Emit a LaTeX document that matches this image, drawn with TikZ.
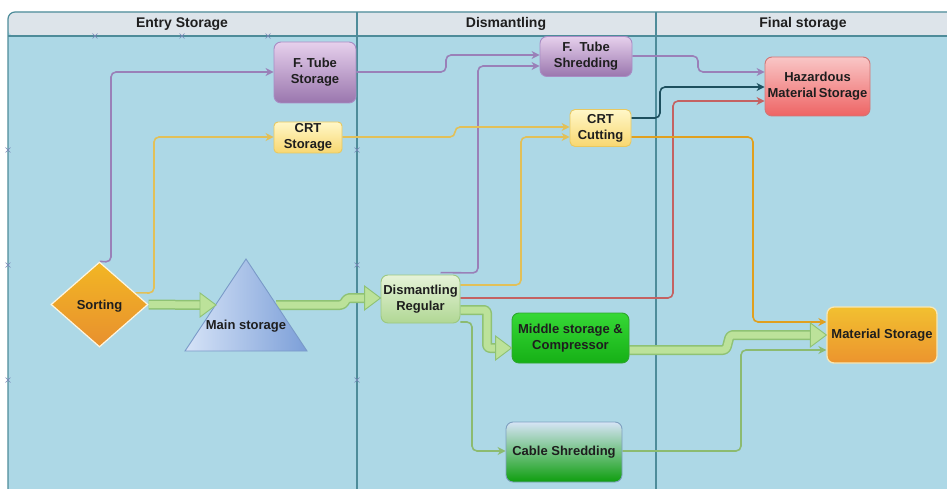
\documentclass[tikz,border=0pt]{standalone}
\usepackage{fontspec}
\setmainfont{Liberation Sans}
\usetikzlibrary{shapes.geometric,arrows.meta,calc}
\pgfdeclarelayer{pool}
\pgfdeclarelayer{links}
\pgfsetlayers{pool,links,main}
\definecolor{poolbg}{HTML}{ADD8E6}
\definecolor{headbg}{HTML}{DDE4EA}
\definecolor{lanebd}{HTML}{4E8C9A}
\definecolor{xcol}{HTML}{7A86B8}
\definecolor{purpline}{HTML}{9A80B8}
\definecolor{yelline}{HTML}{E2C058}
\definecolor{redline}{HTML}{C46262}
\definecolor{tealline}{HTML}{1D4F5E}
\definecolor{orline}{HTML}{E0A020}
\definecolor{grline}{HTML}{8CBB70}
\definecolor{blockfill}{HTML}{BCE29A}
\definecolor{blockbd}{HTML}{8FC274}
\definecolor{txt}{HTML}{1E1E1E}
\definecolor{purpbd}{HTML}{A88CC4}
\definecolor{purptop}{HTML}{E6D0EC}
\definecolor{purpbot}{HTML}{9A76AE}
\definecolor{yelbd}{HTML}{E8C860}
\definecolor{yeltop}{HTML}{FFF7C8}
\definecolor{yelbot}{HTML}{F8D770}
\definecolor{sortbd}{HTML}{FFF6E0}
\definecolor{sorttop}{HTML}{F2B624}
\definecolor{sortbot}{HTML}{E8902E}
\definecolor{tribd}{HTML}{7A9AC8}
\definecolor{trileftc}{HTML}{D6E3F7}
\definecolor{trirightc}{HTML}{7C9FD8}
\definecolor{hazbd}{HTML}{D07676}
\definecolor{haztop}{HTML}{F9C6C6}
\definecolor{hazbot}{HTML}{EE6464}
\definecolor{dbd}{HTML}{9CC880}
\definecolor{dtop}{HTML}{E6F3D8}
\definecolor{dbot}{HTML}{B0D794}
\definecolor{mbd}{HTML}{2EA62E}
\definecolor{mtop}{HTML}{36D836}
\definecolor{mbot}{HTML}{16B016}
\definecolor{cbd}{HTML}{7FA0C0}
\definecolor{ctop}{HTML}{D6E4F6}
\definecolor{cbot}{HTML}{0E9E0E}
\definecolor{msbd}{HTML}{F6E7B6}
\definecolor{mstop}{HTML}{F2C030}
\definecolor{msbot}{HTML}{EC942E}
\newcommand\bhead[1]{\draw[blockbd, fill=blockfill, line width=0.9pt, line join=miter] (#1) -- ++(-16,-12) -- ++(0,24) -- cycle;}
\tikzset{
  conn/.style={line width=1.6pt, rounded corners=5pt, -{Stealth[length=8pt,width=8pt]}},
  shaftbd/.style={line width=10pt, draw=blockbd, rounded corners=3pt, line join=round},
  shaftin/.style={line width=7pt, draw=blockfill, rounded corners=3pt, line join=round},
  box/.style={rectangle, rounded corners=7pt, draw, line width=0.9pt, inner sep=0pt, align=center, text=txt},
  purpbox/.style={box, draw=purpbd, top color=purptop, bottom color=purpbot},
  yelbox/.style={box, draw=yelbd, top color=yeltop, bottom color=yelbot},
  xmk/.style={draw=xcol, line width=0.6pt},
  lane/.style={draw=lanebd, line width=1.2pt},
  headtxt/.style={font=\fontsize{14}{16}\selectfont\bfseries, text=txt}
}
\begin{document}
\begin{tikzpicture}[x=1pt, y=-1pt, font=\fontsize{13}{16}\selectfont\bfseries]
\useasboundingbox (0,0) rectangle (947,489);
\begin{pgfonlayer}{pool}
\fill[white] (0,0) rectangle (947,489);
\begin{scope}
\clip (0,0) rectangle (947,489);
\fill[poolbg, rounded corners=7pt] (8,12) rectangle (980,520);
\fill[headbg, rounded corners=7pt] (8,36) -- (8,12) -- (980,12) -- (980,36) -- cycle;
\draw[lane, rounded corners=7pt] (8,489) -- (8,12) -- (980,12);
\draw[lane] (8,36) -- (947,36);
\draw[lane] (357,12) -- (357,489);
\draw[lane] (656,12) -- (656,489);
\end{scope}
\foreach \x/\y in {95/36,182/36,268/36,8/150,8/265,8/380,357/150,357/265,357/380}
  \draw[xmk] (\x-2.5,\y-2.5) -- (\x+2.5,\y+2.5) (\x-2.5,\y+2.5) -- (\x+2.5,\y-2.5);
\end{pgfonlayer}
\node[headtxt] (h1) at (182,24) {Entry Storage};
\node[headtxt] (h2) at (506,24) {Dismantling};
\node[headtxt] (h3) at (803,24) {Final storage};

% nodes
\node[diamond, draw=sortbd, line width=1.2pt, top color=sorttop, bottom color=sortbot, minimum width=97pt, minimum height=85pt, inner sep=0pt, text height=9pt, text depth=0pt, text=txt] (sorting) at (99.5,304.5) {Sorting};
\path[draw=tribd, line width=0.9pt, left color=trileftc, right color=trirightc] (246,259) -- (307,351) -- (185,351) -- cycle;
\node[text=txt] (mainst) at (246,326) {Main storage};
\coordinate (trileft) at (216,305);
\coordinate (triright) at (276,305);
\node[purpbox, minimum width=82pt, minimum height=61pt] (ftstore) at (315,72.5) {F. Tube\\Storage};
\node[yelbox, minimum width=68pt, minimum height=31pt, rounded corners=4pt] (crtstore) at (308,137.5) {CRT\\Storage};
\node[purpbox, minimum width=92pt, minimum height=40pt] (ftshred) at (586,56.5) {F.~~Tube\\Shredding};
\node[yelbox, minimum width=61pt, minimum height=37pt, rounded corners=5pt] (crtcut) at (600.5,128) {CRT\\Cutting};
\node[box, draw=hazbd, top color=haztop, bottom color=hazbot, minimum width=105pt, minimum height=59pt] (hazard) at (817.5,86.5) {Hazardous\\Material\,Storage};
\node[box, draw=dbd, top color=dtop, bottom color=dbot, minimum width=79pt, minimum height=48pt] (dismreg) at (420.5,299) {Dismantling\\Regular};
\node[box, draw=mbd, top color=mtop, bottom color=mbot, minimum width=117pt, minimum height=50pt] (midstore) at (570.5,338) {Middle storage \&\\Compressor};
\node[box, draw=cbd, top color=ctop, bottom color=cbot, minimum width=116pt, minimum height=60pt] (cable) at (564,452) {Cable Shredding};
\node[box, draw=msbd, line width=1.3pt, top color=mstop, bottom color=msbot, minimum width=110pt, minimum height=56pt] (matstore) at (882,335) {Material Storage};

\begin{pgfonlayer}{links}
% thin connectors
\draw[conn, purpline] (sorting.north) -- (111,262) -- (111,72) -- (ftstore.west |- 0,72);
\draw[conn, yelline] ($(sorting.north)!0.73!(sorting.east)$) -- (154,293) -- (154,137) -- (crtstore.west |- 0,137);
\draw[conn, purpline] (ftstore.east |- 0,72) -- (446,72) -- (446,55) -- (ftshred.west |- 0,55);
\draw[conn, purpline] ($(dismreg.north)+(20,-2)$) -- (478,273) -- (478,66) -- (ftshred.west |- 0,66);
\draw[conn, yelline] (crtstore.east |- 0,137) -- (455,137) -- (455,127) -- (crtcut.west |- 0,127);
\draw[conn, yelline] (dismreg.east |- 0,285) -- (521,285) -- (521,137) -- (crtcut.west |- 0,137);
\draw[conn, purpline] (ftshred.east |- 0,56) -- (698,56) -- (698,72) -- (hazard.west |- 0,72);
\draw[conn, tealline] (crtcut.east |- 0,118) -- (660,118) -- (660,87) -- (hazard.west |- 0,87);
\draw[conn, redline] (dismreg.east |- 0,298) -- (673,298) -- (673,101) -- (hazard.west |- 0,101);
\draw[conn, orline] (crtcut.east |- 0,137) -- (753,137) -- (753,322) -- (matstore.west |- 0,322);
\draw[conn, grline] (dismreg.east |- 0,322) -- (472,322) -- (472,451) -- (cable.west |- 0,451);
\draw[conn, grline] (cable.east |- 0,451) -- (741,451) -- (741,350) -- (matstore.west |- 0,350);
% block arrow shafts
\draw[shaftbd] (sorting.east) -- (202,305);
\draw[shaftin] (sorting.east) -- (202,305);
\draw[shaftbd] (triright) -- (343,305) -- (347,298) -- (367,298);
\draw[shaftin] (triright) -- (343,305) -- (347,298) -- (367,298);
\draw[shaftbd] (dismreg.east |- 0,310) -- (487,310) -- (487,348) -- (498,348);
\draw[shaftin] (dismreg.east |- 0,310) -- (487,310) -- (487,348) -- (498,348);
\draw[shaftbd] (midstore.east |- 0,350) -- (726,350) -- (730,335) -- (813,335);
\draw[shaftin] (midstore.east |- 0,350) -- (726,350) -- (730,335) -- (813,335);
\end{pgfonlayer}

\bhead{trileft}
\bhead{dismreg.west |- 0,298}
\bhead{midstore.west |- 0,348}
\bhead{matstore.west |- 0,335}
\end{tikzpicture}
\end{document}
